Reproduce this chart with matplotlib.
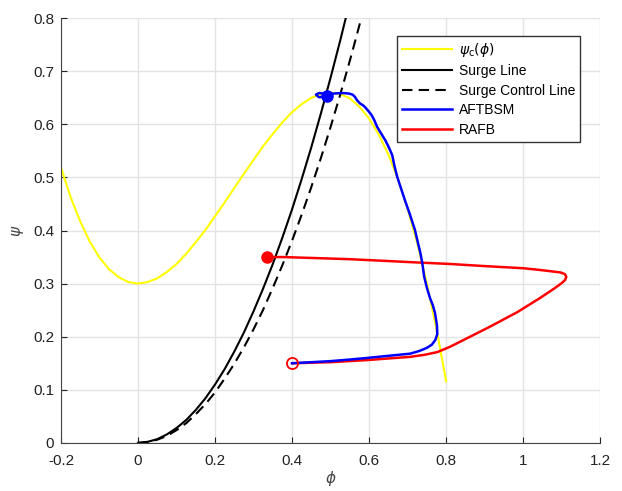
import numpy as np
import matplotlib
matplotlib.use("Agg")
import matplotlib.pyplot as plt

plt.rcParams["font.family"] = ["Liberation Sans", "DejaVu Sans"]
plt.rcParams["mathtext.fontset"] = "dejavusans"

# compressor characteristic psi_c(phi)
phi_c = [-0.2, -0.175, -0.15, -0.125, -0.1, -0.075, -0.05, -0.025, 0.0,
         0.025, 0.05, 0.075, 0.1, 0.125, 0.15, 0.175, 0.2, 0.225, 0.25,
         0.275, 0.3, 0.325, 0.35, 0.375, 0.4, 0.425, 0.45, 0.475, 0.5,
         0.525, 0.55, 0.575, 0.6, 0.625, 0.65, 0.675, 0.7, 0.725, 0.75,
         0.775, 0.8]
psi_c = [0.519, 0.463, 0.417, 0.379, 0.349, 0.327, 0.312, 0.303, 0.300,
         0.303, 0.310, 0.322, 0.337, 0.356, 0.378, 0.401, 0.427, 0.453, 0.480,
         0.507, 0.533, 0.559, 0.582, 0.604, 0.623, 0.638, 0.650, 0.657, 0.660,
         0.657, 0.649, 0.633, 0.611, 0.581, 0.543, 0.497, 0.441, 0.376, 0.300,
         0.214, 0.116]

# surge line and surge control line
phi_s = [0.0, 0.025, 0.05, 0.075, 0.1, 0.125, 0.15, 0.175, 0.2, 0.225, 0.25,
         0.275, 0.3, 0.325, 0.35, 0.375, 0.4, 0.425, 0.45, 0.475, 0.5, 0.525, 0.54]
psi_s = [0.0, 0.002, 0.007, 0.016, 0.028, 0.043, 0.062, 0.084, 0.110, 0.139, 0.172,
         0.208, 0.248, 0.291, 0.337, 0.387, 0.440, 0.497, 0.557, 0.621, 0.688, 0.758, 0.802]
phi_sc = [0.0, 0.025, 0.05, 0.075, 0.1, 0.125, 0.15, 0.175, 0.2, 0.225, 0.25,
          0.275, 0.3, 0.325, 0.35, 0.375, 0.4, 0.425, 0.45, 0.475, 0.5, 0.525,
          0.55, 0.565, 0.58]
psi_sc = [0.0, 0.0015, 0.006, 0.013, 0.024, 0.037, 0.054, 0.073, 0.095, 0.121, 0.149,
          0.180, 0.214, 0.251, 0.292, 0.335, 0.381, 0.430, 0.482, 0.537, 0.595, 0.656,
          0.720, 0.760, 0.801]

# AFTBSM trajectory
phi_a = [0.40, 0.45, 0.50, 0.55, 0.595, 0.65, 0.706, 0.73, 0.75, 0.763, 0.772,
         0.777, 0.776, 0.771, 0.765, 0.758, 0.750, 0.743, 0.738, 0.733, 0.727,
         0.719, 0.706, 0.693, 0.683, 0.673, 0.666, 0.660, 0.651, 0.642, 0.631,
         0.621, 0.614, 0.606, 0.597, 0.590, 0.584, 0.577, 0.569, 0.563, 0.557,
         0.548, 0.530, 0.507, 0.490, 0.470, 0.462, 0.470, 0.490]
psi_a = [0.150, 0.152, 0.154, 0.157, 0.160, 0.164, 0.168, 0.173, 0.179, 0.185, 0.194,
         0.205, 0.222, 0.245, 0.260, 0.273, 0.292, 0.313, 0.339, 0.358, 0.376,
         0.401, 0.430, 0.457, 0.479, 0.501, 0.521, 0.542, 0.557, 0.570, 0.583,
         0.595, 0.607, 0.618, 0.626, 0.632, 0.636, 0.639, 0.645, 0.652, 0.656,
         0.658, 0.659, 0.658, 0.657, 0.659, 0.656, 0.651, 0.653]

# RAFB trajectory
phi_r = [0.40, 0.50, 0.595, 0.65, 0.706, 0.745, 0.777, 0.810, 0.854, 0.914, 0.984,
         1.044, 1.083, 1.100, 1.109, 1.112, 1.108, 1.097, 1.075, 1.04, 1.0, 0.90,
         0.81, 0.72, 0.636, 0.55, 0.465, 0.377, 0.335]
psi_r = [0.150, 0.152, 0.156, 0.159, 0.162, 0.166, 0.171, 0.181, 0.197, 0.219, 0.246,
         0.273, 0.292, 0.301, 0.307, 0.313, 0.318, 0.321, 0.323, 0.326, 0.329, 0.333,
         0.337, 0.340, 0.343, 0.346, 0.348, 0.350, 0.350]

fig = plt.figure(figsize=(6.22, 4.91), dpi=100)
ax = fig.add_axes([0.098, 0.098, 0.867, 0.865])

ax.plot(phi_c, psi_c, color="yellow", lw=1.5, label=r"$\psi_\mathrm{c}(\phi)$")
ax.plot(phi_s, psi_s, color="black", lw=1.5, label="Surge Line")
ax.plot(phi_sc, psi_sc, color="black", lw=1.5, dashes=(5, 3), label="Surge Control Line")
ax.plot(phi_r, psi_r, color="red", lw=1.8, label="_nolegend_", zorder=3)
ax.plot(phi_a, psi_a, color="blue", lw=1.8, label="AFTBSM", zorder=4)
ax.plot([], [], color="red", lw=1.8, label="RAFB")

ax.plot(phi_r[0], psi_r[0], "o", mfc="none", mec="red", ms=8, mew=1.3, zorder=5)
ax.plot(phi_r[-1], psi_r[-1], "o", color="red", ms=8, zorder=5)
ax.plot(phi_a[-1], psi_a[-1], "o", color="blue", ms=8, zorder=5)

ax.set_xlim(-0.2, 1.2)
ax.set_ylim(0, 0.8)
ax.set_xticks(np.arange(-0.2, 1.21, 0.2))
ax.set_yticks(np.arange(0, 0.81, 0.1))
ax.set_xticklabels(["-0.2", "0", "0.2", "0.4", "0.6", "0.8", "1", "1.2"])
ax.set_yticklabels(["0", "0.1", "0.2", "0.3", "0.4", "0.5", "0.6", "0.7", "0.8"])
ax.grid(True, color="#e3e3e3", lw=1.0)
ax.set_axisbelow(True)
for s in ["top", "right"]:
    ax.spines[s].set_visible(False)
for s in ["left", "bottom"]:
    ax.spines[s].set_color("#444444")
ax.tick_params(direction="in", length=4, labelsize=11, colors="#222222")
ax.tick_params(axis="x", pad=8)
ax.tick_params(axis="y", pad=5)
ax.set_xlabel(r"$\phi$", fontsize=11, color="#444444", labelpad=1)
ax.set_ylabel(r"$\psi$", fontsize=11, color="#444444", labelpad=5)

leg = ax.legend(loc="upper right", bbox_to_anchor=(0.975, 0.975), fontsize=10,
                handlelength=3.6, fancybox=False, framealpha=1,
                edgecolor="#333333", borderpad=0.35, labelspacing=0.4,
                handletextpad=0.5)
leg.get_frame().set_linewidth(1.0)

fig.savefig("out.png", dpi=100)
